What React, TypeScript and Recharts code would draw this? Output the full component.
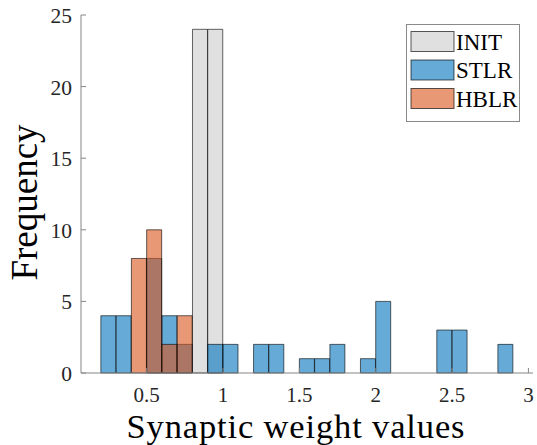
import React from 'react';
import { ComposedChart, Bar, XAxis, YAxis } from 'recharts';

// Histogram bin centres (bin width 0.1)
const binCenters = [
  0.25, 0.35, 0.45, 0.55, 0.65, 0.75, 0.85, 0.95, 1.05, 1.15, 1.25, 1.35, 1.45, 1.55,
  1.65, 1.75, 1.85, 1.95, 2.05, 2.15, 2.25, 2.35, 2.45, 2.55, 2.65, 2.75, 2.85,
];
const initCounts = [0, 0, 0, 0, 0, 0, 24, 24, 0, 0, 0, 0, 0, 0, 0, 0, 0, 0, 0, 0, 0, 0, 0, 0, 0, 0, 0];
const stlrCounts = [4, 4, 0, 8, 4, 2, 0, 2, 2, 0, 2, 2, 0, 1, 1, 2, 0, 1, 5, 0, 0, 0, 3, 3, 0, 0, 2];
const hblrCounts = [0, 0, 8, 10, 2, 4, 0, 0, 0, 0, 0, 0, 0, 0, 0, 0, 0, 0, 0, 0, 0, 0, 0, 0, 0, 0, 0];

const xTicks = [0.5, 1, 1.5, 2, 2.5, 3];
const yTicks = [0, 5, 10, 15, 20, 25];
const seriesNames = ['INIT', 'STLR', 'HBLR'];
const seriesColors = ['#cccccc', '#0072bd', '#d95319'];
const xLabel = 'Synaptic weight values';
const yLabel = 'Frequency';

const X_DOMAIN: [number, number] = [0.07, 3.03];
const Y_DOMAIN: [number, number] = [0, 25];

const data = binCenters.map((x, i) => ({
  x,
  init: initCounts[i],
  stlr: stlrCounts[i],
  hblr: hblrCounts[i],
}));

const FONT = "'Liberation Serif', 'Times New Roman', serif";
const AXIS = '#858585';
const TEXT = '#262626';
const TICK_LEN = 5;

const BottomTick = (props: any) => {
  const { x, y, payload } = props;
  return (
    <g>
      <line x1={x} x2={x} y1={y} y2={y - TICK_LEN} stroke={AXIS} strokeWidth={1} />
      <text x={x} y={y + 29} textAnchor="middle" fontFamily={FONT} fontSize={21} fill={TEXT}>
        {payload.value}
      </text>
    </g>
  );
};

const TopTick = (props: any) => {
  const { x, y } = props;
  return <line x1={x} x2={x} y1={y} y2={y + TICK_LEN} stroke={AXIS} strokeWidth={1} />;
};

const LeftTick = (props: any) => {
  const { x, y, payload } = props;
  return (
    <g>
      <line x1={x} x2={x + TICK_LEN} y1={y} y2={y} stroke={AXIS} strokeWidth={1} />
      <text x={x - 9} y={y + 8} textAnchor="end" fontFamily={FONT} fontSize={21.5} fill={TEXT}>
        {payload.value}
      </text>
    </g>
  );
};

const RightTick = (props: any) => {
  const { x, y } = props;
  return <line x1={x} x2={x - TICK_LEN} y1={y} y2={y} stroke={AXIS} strokeWidth={1} />;
};

const XTitle = () => (
  <text
    x={295.5}
    y={437.5}
    textAnchor="middle"
    fontFamily={FONT}
    fontSize={34.5}
    textLength={338}
    lengthAdjust="spacing"
    fill="#000"
  >
    {xLabel}
  </text>
);

const YTitle = () => (
  <text
    x={36.5}
    y={202.5}
    transform="rotate(-90 36.5 202.5)"
    textAnchor="middle"
    fontFamily={FONT}
    fontSize={37}
    fill="#000"
  >
    {yLabel}
  </text>
);

const LegendBox = () => {
  const rowTops = [31, 59.5, 88];
  return (
    <svg
      width={114}
      height={98}
      style={{ position: 'absolute', left: 406, top: 23.5, overflow: 'visible' }}
    >
      <rect x={0.5} y={0.5} width={113} height={97} fill="#fff" stroke="#8a8a8a" strokeWidth={1} />
      {seriesNames.map((name, i) => (
        <g key={name}>
          <rect
            x={5}
            y={rowTops[i] - 23.5}
            width={43}
            height={20}
            fill={seriesColors[i]}
            fillOpacity={0.6}
            stroke="#000"
            strokeOpacity={0.65}
            strokeWidth={1}
          />
          <text x={50} y={rowTops[i] - 23.5 + 18} fontFamily={FONT} fontSize={23} fill="#000">
            {name}
          </text>
        </g>
      ))}
    </svg>
  );
};

export default function App() {
  return (
    <div style={{ position: 'absolute', left: 0, top: 0, width: 537, height: 445, background: '#fff' }}>
      <ComposedChart
        width={537}
        height={445}
        data={data}
        margin={{ top: 15, right: 4, bottom: 0, left: 0 }}
        barCategoryGap={0}
        barGap={0}
      >
        <XAxis
          xAxisId="bottom"
          dataKey="x"
          type="number"
          domain={X_DOMAIN}
          ticks={xTicks}
          interval={0}
          height={72}
          tickSize={0}
          tickMargin={0}
          tickLine={false}
          axisLine={{ stroke: AXIS, strokeWidth: 1 }}
          tick={<BottomTick />}
          label={<XTitle />}
        />
        <XAxis
          xAxisId="top"
          orientation="top"
          dataKey="x"
          type="number"
          domain={X_DOMAIN}
          ticks={xTicks}
          interval={0}
          height={0}
          tickSize={0}
          tickMargin={0}
          tickLine={false}
          axisLine={{ stroke: AXIS, strokeWidth: 1 }}
          tick={<TopTick />}
        />
        <XAxis xAxisId="hidden" dataKey="x" type="number" domain={X_DOMAIN} hide />
        <YAxis
          type="number"
          domain={Y_DOMAIN}
          ticks={yTicks}
          interval={0}
          width={81}
          tickSize={0}
          tickMargin={0}
          tickLine={false}
          axisLine={{ stroke: AXIS, strokeWidth: 1 }}
          tick={<LeftTick />}
          label={<YTitle />}
        />
        <YAxis
          yAxisId="right"
          orientation="right"
          type="number"
          domain={Y_DOMAIN}
          ticks={yTicks}
          interval={0}
          width={0}
          tickSize={0}
          tickMargin={0}
          tickLine={false}
          axisLine={{ stroke: AXIS, strokeWidth: 1 }}
          tick={<RightTick />}
        />
        <Bar
          xAxisId="bottom"
          dataKey="init"
          name={seriesNames[0]}
          fill={seriesColors[0]}
          fillOpacity={0.6}
          stroke="#000"
          strokeOpacity={0.6}
          strokeWidth={1}
          isAnimationActive={false}
        />
        <Bar
          xAxisId="top"
          dataKey="stlr"
          name={seriesNames[1]}
          fill={seriesColors[1]}
          fillOpacity={0.6}
          stroke="#000"
          strokeOpacity={0.6}
          strokeWidth={1}
          isAnimationActive={false}
        />
        <Bar
          xAxisId="hidden"
          dataKey="hblr"
          name={seriesNames[2]}
          fill={seriesColors[2]}
          fillOpacity={0.6}
          stroke="#000"
          strokeOpacity={0.6}
          strokeWidth={1}
          isAnimationActive={false}
        />
      </ComposedChart>
      <LegendBox />
    </div>
  );
}
